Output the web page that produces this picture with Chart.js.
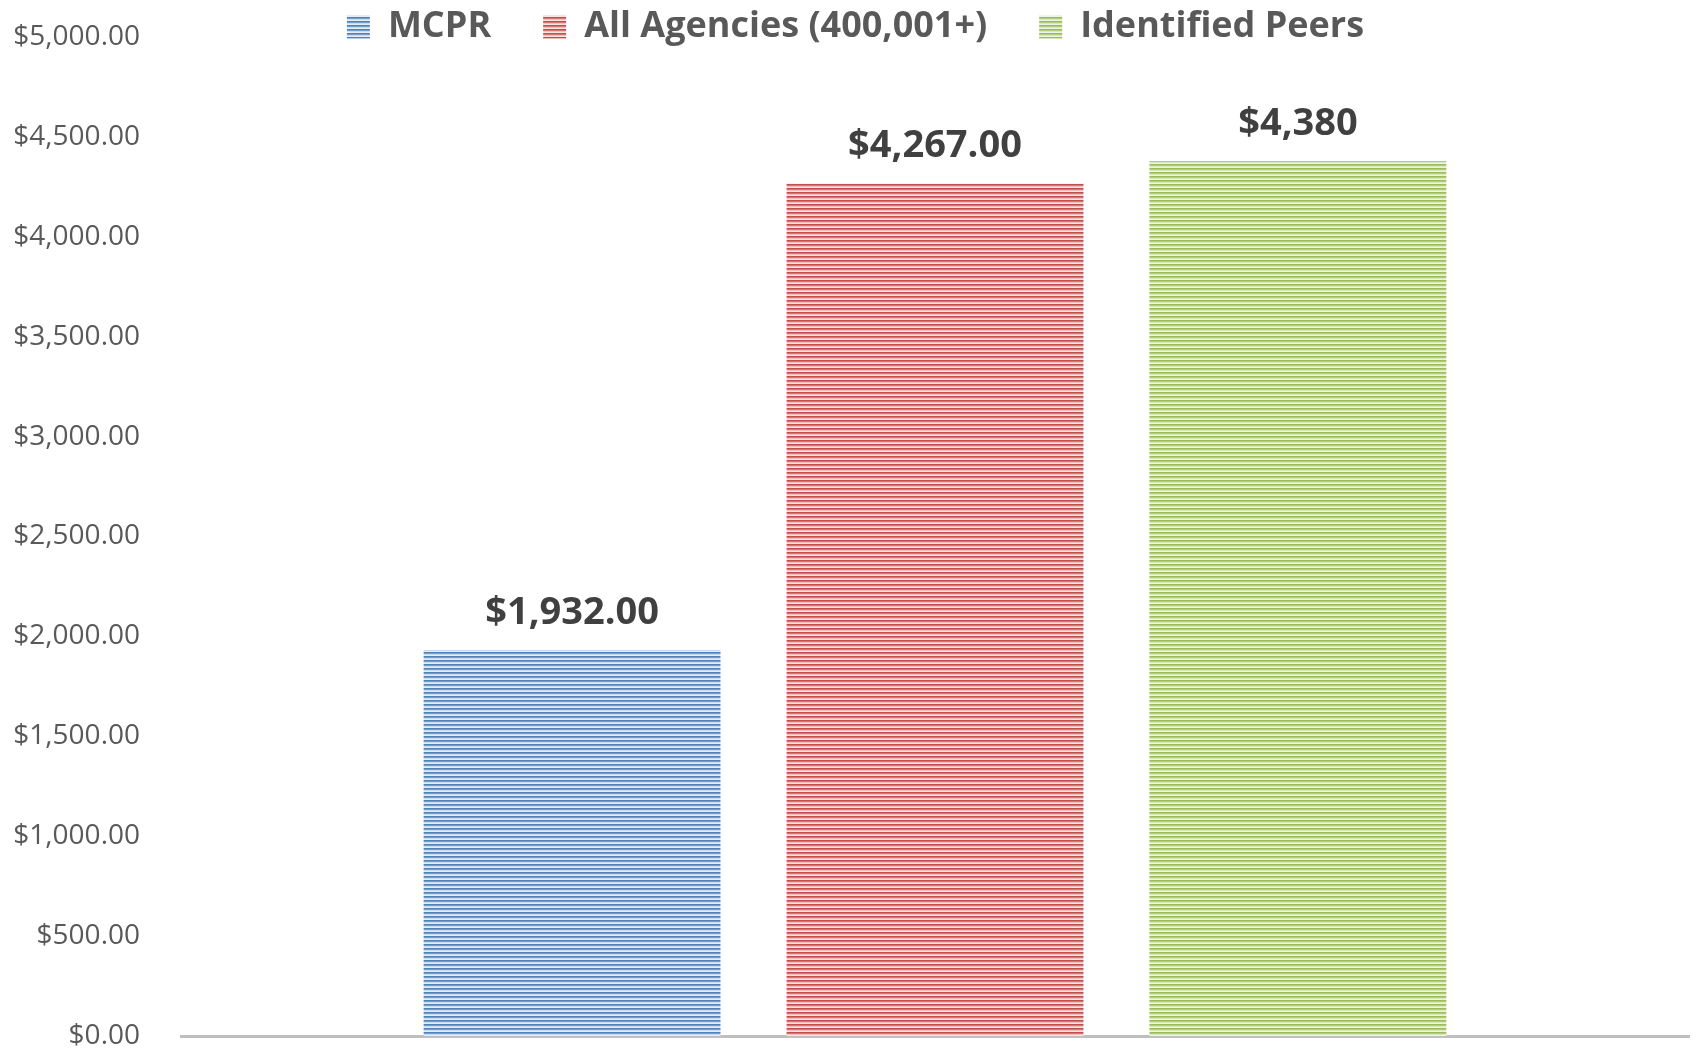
<!DOCTYPE html>
<html>
<head>
<meta charset="utf-8">
<script src="https://cdn.jsdelivr.net/npm/chart.js@4.4.1/dist/chart.umd.min.js"></script>
<style>
html,body{margin:0;padding:0;background:#fff;}
#wrap{width:1697px;height:1050px;position:relative;}
</style>
</head>
<body>
<div id="wrap"><canvas id="c" width="1697" height="1050"></canvas></div>
<script>
const categories = [''];
const seriesNames = ['MCPR', 'All Agencies (400,001+)', 'Identified Peers'];
const seriesValues = [1932, 4267, 4380];
const valueLabels = ['$1,932.00', '$4,267.00', '$4,380'];
const yTicks = [0, 500, 1000, 1500, 2000, 2500, 3000, 3500, 4000, 4500, 5000];

const FONT = "'Open Sans', 'DejaVu Sans', sans-serif";
const LEGEND_FONT = 36;
const LEGEND_PAD = 52;

function stripes(rows) {
  const c = document.createElement('canvas');
  c.width = 8; c.height = rows.length;
  const x = c.getContext('2d');
  rows.forEach((col, i) => { x.fillStyle = col; x.fillRect(0, i, 8, 1); });
  return x.createPattern(c, 'repeat');
}
const ctx = document.getElementById('c').getContext('2d');
const fills = [
  stripes(['#4f81bd', '#769dcf', '#cad9ee', '#e6edf7']),
  stripes(['#c0504d', '#d37673', '#f0c0bf', '#f9e2e1']),
  stripes(['#9bbb59', '#b2cb7f', '#d9e7c1', '#eef4e4'])
];

const legendFit = {
  id: 'legendFit',
  beforeLayout(chart) {
    const lg = chart.legend;
    if (lg && !lg._patched) {
      const f = lg.fit;
      lg.fit = function () { f.call(this); this.height = 37; };
      lg.draw = function () {
        if (!this.options.display) return;
        const c = this.ctx;
        c.save();
        c.translate(11, 27 - (LEGEND_PAD + LEGEND_FONT / 2));
        this._draw();
        c.restore();
      };
      lg._patched = true;
    }
  }
};

const valueLabelPlugin = {
  id: 'valueLabels',
  afterDatasetsDraw(chart) {
    const c = chart.ctx;
    c.save();
    c.font = "bold 38px " + FONT;
    c.fillStyle = '#404040';
    c.textAlign = 'center';
    c.textBaseline = 'middle';
    chart.data.datasets.forEach((ds, i) => {
      const el = chart.getDatasetMeta(i).data[0];
      c.fillText(valueLabels[i], el.x, el.y - 37);
    });
    c.restore();
  }
};

new Chart(ctx, {
  type: 'bar',
  data: {
    labels: categories,
    datasets: seriesNames.map((n, i) => ({
      label: n,
      data: [seriesValues[i]],
      backgroundColor: fills[i],
      borderWidth: 0,
      categoryPercentage: 0.722,
      barPercentage: 0.818
    }))
  },
  options: {
    responsive: false,
    animation: false,
    devicePixelRatio: 1,
    layout: { padding: { left: 0, right: 8, top: 0, bottom: 14 } },
    plugins: {
      legend: {
        position: 'top',
        labels: {
          boxWidth: 23,
          boxHeight: 23,
          padding: LEGEND_PAD,
          color: '#595959',
          font: { family: FONT, size: LEGEND_FONT, weight: 'bold' }
        }
      },
      tooltip: { enabled: false }
    },
    scales: {
      x: {
        afterFit(scale) { scale.height = 0; scale.paddingLeft = 0; scale.paddingRight = 0; },
        grid: { display: false, drawTicks: false },
        border: { display: true, color: '#bfbfbf', width: 3 },
        ticks: { display: false }
      },
      y: {
        min: 0,
        max: 5000,
        afterBuildTicks(scale) { scale.ticks = yTicks.map(v => ({ value: v })); },
        afterFit(scale) { scale.width = 181; scale.paddingTop = 0; scale.paddingBottom = 0; },
        grid: { display: false, drawTicks: false },
        border: { display: false },
        ticks: {
          padding: 41,
          color: '#595959',
          font: { family: FONT, size: 28 },
          callback: v => '$' + Number(v).toLocaleString('en-US', { minimumFractionDigits: 2, maximumFractionDigits: 2 })
        }
      }
    }
  },
  plugins: [legendFit, valueLabelPlugin]
});
</script>
</body>
</html>
